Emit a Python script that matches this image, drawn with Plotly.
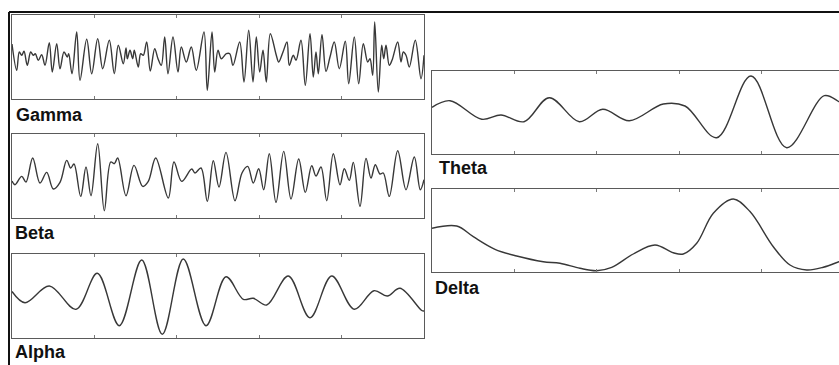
import plotly.graph_objects as go

W, H = 839, 365

# ---- data: time (samples) and amplitude ----
t_gamma = [0, 4.7, 7.3, 9.7, 12, 15.3, 18.7, 21.3, 23.3, 26.3, 29.7, 33, 37.3, 40.3, 44.7, 48, 52, 55.3,
           56.7, 60, 64.7, 68, 74.7, 79.7, 85.7, 90.7, 97.3, 102.3, 106.3, 111.3, 114, 115.3, 118, 120.7,
           122.3, 126.3, 128.7, 131.3, 134.7, 138.3, 142.7, 146, 149.3, 152.7, 156, 161, 166, 169.3, 174.3,
           179.3, 184.3, 192, 195.3, 200, 202.7, 206, 209.3, 214.3, 217.7, 221, 227.7, 232, 236.7, 241,
           244.3, 247.7, 251, 254.3, 258.3, 264.3, 266.7, 271, 275, 277.3, 281.3, 284, 289, 293.3, 298,
           301.3, 304, 306.3, 310, 314, 318, 322.3, 327.3, 333.3, 336.7, 342.3, 346.7, 351.3, 355.7, 358,
           360.7, 362.7, 366.3, 369.7, 371.7, 374, 377.3, 380, 385.7, 389, 391.3, 394, 397.3, 403.3, 409, 412]
gamma = [13, -13.3, 5, 1.7, 5.7, -8.3, 5, 1.7, 3.3, -3.3, 2.3, -8.3, 14.3, -15, 13.3, -11.7, 5, 0,
         3.3, -16.7, 25, -23.3, 17.7, -16.7, 18.3, -11.7, 16.7, -16.7, 11.7, -6.7, 9, -1.7, 6.7, -1.7,
         6.7, -10, 3.3, 1.7, 15, -14, 8.3, -1.7, -8.3, 20, -16.7, 20, -15, 10, -5,
         10, -13.3, 25, -33.3, 25, -15, 6.7, -1.7, 3.3, 3.3, -8.3, 15, -25, 26.7, -25,
         20, -15, 6.7, -25, 23.3, 1.7, -5, 5, 15, -8.3, 1.7, -3.3, 16.7, -28.3, 23.3,
         -20, 5, -16.7, 22.3, -14.3, 0, 15, -11.7, 15.7, -26.7, 20, -26.7, 13.3, -5, -1.7,
         -18.3, 35, -35, 11.7, -1.7, 11.7, -8.3, -3.3, 15, -5, 5, 1.7, -10, 16.7, -21.7, 1.7]

t_beta = [0, 3, 9.7, 14, 20.7, 28, 34.7, 41.3, 48, 54.7, 58.7, 62, 68.7, 74, 79, 85.7, 92.3, 98.7,
          102.3, 105.7, 114, 122, 130.7, 136.3, 143.7, 156.3, 162, 169.7, 179.7, 183, 189, 195.3, 201.3,
          207, 214, 223, 230, 235.7, 241.3, 246.7, 251.7, 257.3, 264, 271.7, 279, 286.7, 293.3, 299.7,
          304, 309, 314.7, 321.3, 328, 332.3, 337.3, 341.3, 348, 354, 359, 363.3, 368, 371.3, 377.3,
          385.7, 394, 402.3, 408.3, 412]
beta = [-5, -8.7, -0.4, -6, 18, -7, 3.6, -13, -6.4, 15.6, 8, 12, -20.4, 9, -19.7, 32.3, -34.7, 14,
        12.3, 18, -19.7, 10.6, -10.4, -5.4, 18, -22, 14, -5.4, 7, 3, 8, -25.4, 15.3,
        -11, 23.6, -24.7, 3, 9.6, -7, 7.3, -13.7, 22.3, -26.4, 24.6, -23, 17, -16.4, 10.3,
        0, 9, -24.7, 22.3, -8.7, 7.3, -4.4, 13.6, -30.4, 17.6, -2, 11.3, 2, 3, -20.4,
        25.3, -13.7, 19, -13.7, -3.7]

t_alpha = [0, 13, 37.3, 64, 85.3, 107.3, 129.7, 150.3, 171.3, 194, 214, 231.3, 241.3, 254.7, 276.3,
           298, 319.7, 342.3, 362, 375.3, 388, 409.7, 412]
alpha = [4, -7.2, 9.5, -13.8, 22.2, -30.2, 35.5, -38.8, 36.5, -30.2, 18.8, -3.8, -2.8, -9.5, 19.5,
         -22.2, 19.5, -13.8, 4.8, -0.5, 7.2, -15, -15.5]

t_theta = [0, 18, 49.7, 69, 92, 117.3, 147.3, 170.7, 197.3, 231.3, 253, 284.7, 319, 354.7, 392.3, 407, 412]
theta = [5.2, 11.8, -6.8, -2.5, -9.2, 14.8, -9.2, 3.2, -8.2, 8.5, 6.5, -25.2, 36.5, -35.2, 16.8, 10.8, 8]

t_delta = [0, 24.7, 41.3, 63, 84.7, 111.3, 128, 148, 164.7, 179.7, 201.3, 223, 241.3, 251.3, 264.7,
           281.3, 301.3, 318, 341.3, 358, 374.7, 391.3, 407, 412]
delta = [2.5, 4.8, -5.9, -18.5, -25.2, -30.9, -32.5, -37.5, -39.9, -36.5, -23.2, -14.2, -22, -23.2, -12.5,
         17.5, 31.8, 19.2, -15.9, -34.2, -39.2, -36.5, -30.9, -29]

labels = ["Gamma", "Beta", "Alpha", "Theta", "Delta"]
tick_vals = [82.4, 164.8, 247.2, 329.6]

# ---- layout geometry (pixels) ----
panels = [
    # name, t, v, x0, x1, y0, y1, xmax, half, right_border, label position
    (labels[0], t_gamma, gamma, 12, 424, 15, 99, 412, 42, True, (14, 115.5)),
    (labels[1], t_beta, beta, 12, 424, 134, 218, 412, 42, True, (13, 232.5)),
    (labels[2], t_alpha, alpha, 12, 424, 253.5, 337.5, 412, 42, True, (13, 351.5)),
    (labels[3], t_theta, theta, 432, 839, 70.7, 154.3, 407, 41.8, False, (437, 168)),
    (labels[4], t_delta, delta, 432, 839, 189.3, 272.3, 407, 41.5, False, (433, 287.5)),
]

fig = go.Figure()
layout = {}
annotations = []
for i, (name, t, v, x0, x1, y0, y1, xmax, half, rb, lab) in enumerate(panels):
    n = "" if i == 0 else str(i + 1)
    fig.add_trace(go.Scatter(
        x=t, y=v, mode="lines", name=name,
        line=dict(color="#383838", width=1.4, shape="spline", smoothing=1.0),
        xaxis="x" + n, yaxis="y" + n, showlegend=False, hoverinfo="skip"))
    layout["xaxis" + n] = dict(
        domain=[x0 / W, x1 / W], range=[0, xmax], anchor="y" + n,
        showline=True, linecolor="#5a5a5a", linewidth=1, mirror="ticks",
        ticks="inside", ticklen=3, tickcolor="#7a7a7a", tickwidth=1,
        tickvals=tick_vals, showticklabels=False, showgrid=False, zeroline=False, fixedrange=True)
    layout["yaxis" + n] = dict(
        domain=[1 - y1 / H, 1 - y0 / H], range=[-half, half], anchor="x" + n,
        showline=True, linecolor="#5a5a5a", linewidth=1, mirror=rb,
        ticks="", showticklabels=False, showgrid=False, zeroline=False, fixedrange=True)
    annotations.append(dict(
        text=name, x=lab[0] / W, y=1 - lab[1] / H, xref="paper", yref="paper",
        xanchor="left", yanchor="middle", showarrow=False,
        font=dict(family="Liberation Sans, Arial, sans-serif", size=18, color="#111111", weight="bold")))

shapes = [
    dict(type="line", xref="paper", yref="paper", x0=9 / W, x1=1, y0=1 - 12 / H, y1=1 - 12 / H,
         line=dict(color="#111111", width=2)),
    dict(type="line", xref="paper", yref="paper", x0=9 / W, x1=9 / W, y0=0, y1=1 - 12 / H,
         line=dict(color="#111111", width=2)),
]

fig.update_layout(
    width=W, height=H, autosize=False,
    margin=dict(l=0, r=0, t=0, b=0),
    paper_bgcolor="white", plot_bgcolor="white",
    annotations=annotations, shapes=shapes, **layout)

fig.write_html(
    "out.html",
    config={"displayModeBar": False, "staticPlot": True},
    post_script="document.body.style.margin='0';document.body.style.overflow='hidden';")
